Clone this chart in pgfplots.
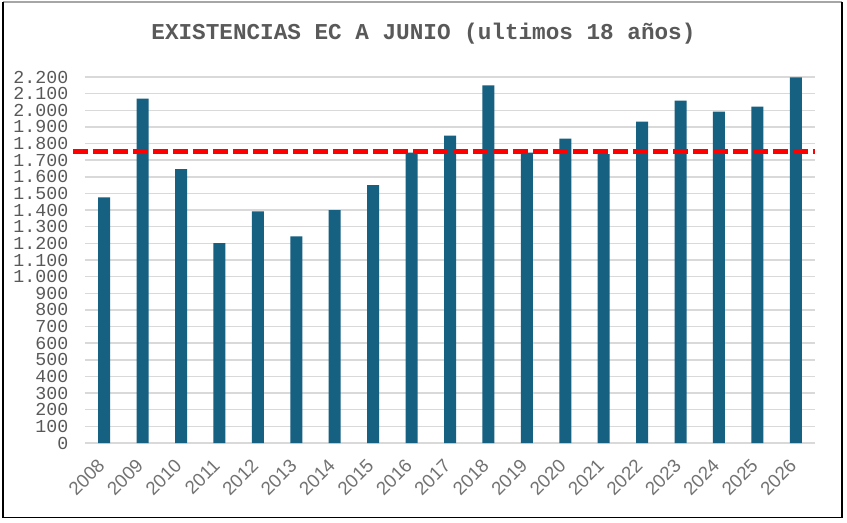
\documentclass[border=0pt]{standalone}
\usepackage{pgfplots}
\pgfplotsset{compat=1.18}
\usepackage{graphicx}
\usepackage{fontspec}
\setmainfont{Liberation Sans}
\newfontfamily\courier{Liberation Mono}
\definecolor{barc}{RGB}{22,96,130}
\definecolor{gridc}{RGB}{217,217,217}
\definecolor{txt}{RGB}{89,89,89}
\newcommand{\rl}[1]{\rotatebox{45}{#1}}
\begin{document}
\begin{tikzpicture}
\useasboundingbox (0pt,0pt) rectangle (635.25pt,391.5pt);
\fill[white] (0pt,0pt) rectangle (635.25pt,391.5pt);
\draw[gray!70, line width=0.8pt] (2.25pt,390pt) -- (631.5pt,390pt);
\draw[black, line width=1.4pt] (2.25pt,390pt) -- (2.25pt,3.4pt) -- (631.5pt,3.4pt) -- (631.5pt,390pt);
\node[font=\courier\bfseries\fontsize{17}{20}\selectfont, text=txt] at (317.6pt,366.5pt) {EXISTENCIAS EC A JUNIO (ultimos 18 años)};
\begin{axis}[
  at={(63.75pt,59.25pt)}, anchor=south west,
  scale only axis, width=547.5pt, height=274.5pt,
  xmin=-0.5, xmax=18.5, ymin=0, ymax=2200,
  clip=false,
  xtick={0,...,18},
  xticklabels={\rl{2008},\rl{2009},\rl{2010},\rl{2011},\rl{2012},\rl{2013},\rl{2014},\rl{2015},\rl{2016},\rl{2017},\rl{2018},\rl{2019},\rl{2020},\rl{2021},\rl{2022},\rl{2023},\rl{2024},\rl{2025},\rl{2026}},
  x tick label style={font=\fontsize{14}{16}\selectfont, text=txt!85, anchor=north east, inner sep=0pt, xshift=1.5pt, yshift=-11pt},
  ytick={0,100,...,2200},
  y tick label style={font=\courier\fontsize{13.7}{14}\selectfont, text=txt, xshift=-9pt,
    /pgf/number format/1000 sep={.}, /pgf/number format/assume math mode=true},
  ymajorgrids, major grid style={draw=gridc, line width=1.1pt},
  axis line style={draw=none},
  major tick length=0pt,
]
\addplot[ybar, bar width=9pt, fill=barc, draw=none] coordinates {
(0,1476) (1,2070) (2,1646) (3,1202) (4,1392) (5,1242) (6,1400) (7,1550) (8,1746) (9,1848) (10,2150) (11,1746) (12,1830) (13,1736) (14,1932) (15,2058) (16,1992) (17,2022) (18,2198)
};
\addplot[red, line width=3.5pt, dash pattern=on 11.25pt off 3.75pt] coordinates {(-0.81,1752) (18.5,1752)};
\end{axis}
\end{tikzpicture}
\end{document}
